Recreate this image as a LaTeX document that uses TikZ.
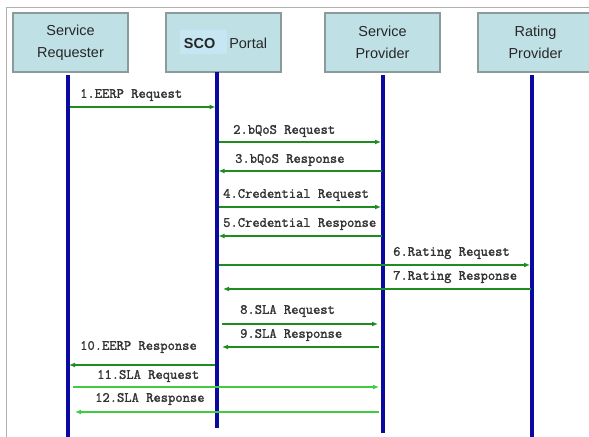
\documentclass[tikz,border=0pt]{standalone}
\usepackage{fontspec}
\setmainfont{Liberation Sans}
\newfontfamily\msgfont{Latin Modern Mono}[FakeBold=1.6]
\usetikzlibrary{arrows.meta}
\definecolor{boxfill}{HTML}{BFE1E6}
\definecolor{boxline}{HTML}{8C9A9A}
\definecolor{life}{HTML}{0A0AA0}
\definecolor{dgreen}{HTML}{1E8C1E}
\definecolor{lgreen}{HTML}{40CC40}
\definecolor{hl}{HTML}{C6E6F4}
\definecolor{framec}{HTML}{B0B0B0}
\begin{document}
\begin{tikzpicture}[x=1bp,y=-1bp,
  actor/.style={draw=boxline, line width=1.2bp, fill=boxfill, minimum width=115bp, minimum height=59bp, inner sep=0pt, font=\fontsize{14.5}{22}\selectfont, align=center, text=black!85},
  lifeline/.style={draw=life, line width=3.5bp},
  msg/.style={draw=dgreen, line width=1.8bp, -{Latex[length=6bp,width=5bp]}},
  msgthick/.style={msg, line width=2.8bp},
  msglight/.style={msg, draw=lgreen, line width=1.6bp},
  lbl/.style={anchor=west, inner sep=0pt, font=\msgfont\fontsize{14.2}{16}\selectfont, text=black!80}
]
\useasboundingbox (0,0) rectangle (589,437);
\draw[framec, line width=1bp] (6,437) -- (6,8) -- (589,8);

% actors
\node[actor] (sr) at (70.5,42.5) {Service\\Requester};
\node[actor] (sco) at (223.5,42.5) {\setlength{\fboxsep}{0pt}\colorbox{hl}{\rule[-6bp]{0pt}{24bp}\hspace{4bp}\textbf{SCO}\hspace{12bp}}\hspace{2bp}Portal};
\node[actor] (sp) at (382.5,42.5) {Service\\Provider};
\node[actor] (rp) at (535.5,42.5) {Rating\\Provider};

% lifelines
\coordinate (srL) at (68,75);   \coordinate (srE) at (68,437);
\coordinate (scoL) at (217,72); \coordinate (scoE) at (217,428);
\coordinate (spL) at (383,75);  \coordinate (spE) at (383,433);
\coordinate (rpL) at (532,75);  \coordinate (rpE) at (532,437);
\draw[lifeline] (srL) -- (srE);
\draw[lifeline] (scoL) -- (scoE);
\draw[lifeline] (spL) -- (spE);
\draw[lifeline] (rpL) -- (rpE);

% messages
\draw[msg, shorten <=1.5bp, shorten >=1.5bp] (srL |- 0,107) -- (scoL |- 0,107);
\node[lbl] (m1) at (80,95) {1.EERP Request};

\draw[msg, shorten <=1.5bp, shorten >=2bp] (scoL |- 0,142) -- (spL |- 0,142);
\node[lbl] (m2) at (233,131) {2.bQoS Request};

\draw[msg, shorten <=1.5bp, shorten >=1.5bp] (spL |- 0,171) -- (scoL |- 0,171);
\node[lbl] (m3) at (235,160) {3.bQoS Response};

\draw[msg, shorten <=1.5bp, shorten >=2bp] (scoL |- 0,207) -- (spL |- 0,207);
\node[lbl] (m4) at (223,195) {4.Credential Request};

\draw[msg, shorten <=1.5bp, shorten >=1.5bp] (spL |- 0,236) -- (scoL |- 0,236);
\node[lbl] (m5) at (223,224) {5.Credential Response};

\draw[msg, shorten <=1.5bp, shorten >=2bp] (scoL |- 0,265) -- (rpL |- 0,265);
\node[lbl] (m6) at (393,253) {6.Rating Request};

\draw[msg, shorten <=1.5bp, shorten >=6bp] (rpL |- 0,289) -- (scoL |- 0,289);
\node[lbl] (m7) at (393,277) {7.Rating Response};

\draw[msg, shorten <=5bp, shorten >=5bp] (scoL |- 0,324) -- (spL |- 0,324);
\node[lbl] (m8) at (240,311) {8.SLA Request};

\draw[msg, shorten <=4bp, shorten >=5bp] (spL |- 0,347) -- (scoL |- 0,347);
\node[lbl] (m9) at (240,335) {9.SLA Response};

\draw[msgthick, shorten <=2bp, shorten >=1bp] (scoL |- 0,365) -- (srL |- 0,365);
\node[lbl] (m10) at (80,347) {10.EERP Response};

\draw[msglight, shorten <=5bp, shorten >=4bp] (srL |- 0,387) -- (spL |- 0,387);
\node[lbl] (m11) at (97,376) {11.SLA Request};

\draw[msglight, shorten <=4bp, shorten >=7bp] (spL |- 0,412) -- (srL |- 0,412);
\node[lbl] (m12) at (95,399) {12.SLA Response};
\end{tikzpicture}
\end{document}
